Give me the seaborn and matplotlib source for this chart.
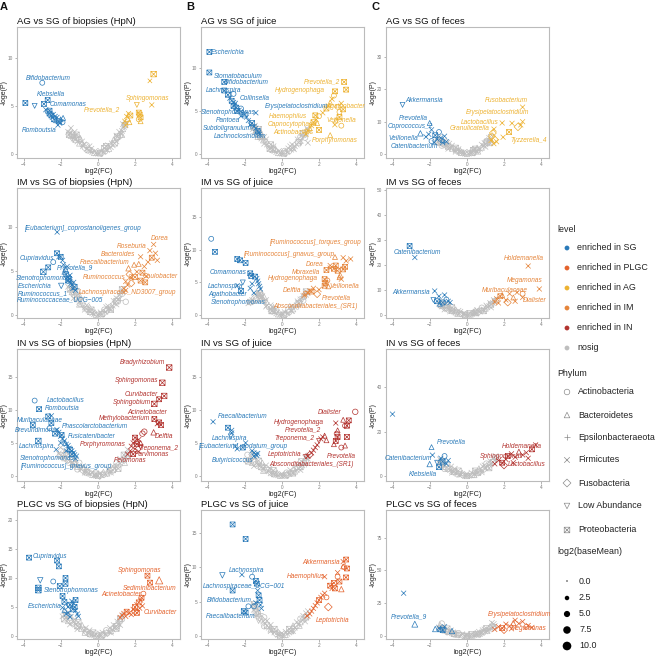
import matplotlib
matplotlib.use("Agg")
import matplotlib.pyplot as plt
import seaborn as sns
import pandas as pd
from matplotlib.path import Path
from matplotlib.markers import MarkerStyle

W, H = 659, 657
sns.set_theme(style="ticks")
plt.rcParams['font.family'] = ['Liberation Sans', 'DejaVu Sans']

# ---------------- categories ----------------
LEVELS = ["enriched in SG", "enriched in PLGC", "enriched in AG", "enriched in IM", "enriched in IN", "nosig"]
LEVEL_COLORS = ["#2A7AB9", "#E4632D", "#EDB232", "#E5853B", "#B2332F", "#BEBEBE"]
PHYLA = ["Actinobacteria", "Bacteroidetes", "Epsilonbacteraeota", "Firmicutes",
         "Fusobacteria", "Low Abundance", "Proteobacteria"]
PH_CODE = {"A": "Actinobacteria", "B": "Bacteroidetes", "E": "Epsilonbacteraeota", "F": "Firmicutes",
           "U": "Fusobacteria", "L": "Low Abundance", "P": "Proteobacteria"}
BASEMEAN_TICKS = [0.0, 2.5, 5.0, 7.5, 10.0]
GREY_PHYLA = ("FPFBU" + "AFFPF" + "BLFAF" + "PFFBF" + "FPUFA" + "FBFFP" + "FLAFF" + "BFPFE" + "AFFPB"
              + "FFPBF" + "AFFFP" + "FBFFA" + "FPFFB" + "FFAPF")
GREY_BASEMEAN = 5

# ---------------- panel data: (taxon, log2FC, -loge(P), phylum, log2(baseMean)) ----------------
A1_title = "AG vs SG of biopsies (HpN)"
A1_sig = [("Bifidobacterium", -2.99, 7.4, "A", 4), ("Klebsiella", -2.9, 5.2, "P", 4),
          ("Comamonas", -2.7, 5.6, "P", 4), ("Romboutsia", -2.15, 3.0, "F", 4),
          ("", -3.9, 5.3, "P", 4), ("", -3.4, 5.0, "L", 4), ("", -2.8, 4.6, "F", 4), ("", -2.7, 4.4, "A", 4),
          ("", -2.6, 4.2, "P", 4), ("", -2.5, 4.0, "P", 4), ("", -2.45, 3.8, "F", 4), ("", -2.4, 4.1, "F", 4),
          ("", -2.35, 3.6, "P", 4), ("", -2.3, 3.9, "F", 4), ("", -2.25, 3.5, "B", 4), ("", -2.2, 3.8, "F", 4),
          ("", -2.1, 3.4, "P", 4), ("", -2.05, 3.2, "F", 4), ("", -2.0, 3.6, "B", 4), ("", -1.9, 3.3, "A", 4),
          ("", -2.6, 4.5, "P", 4), ("", -1.87, 3.75, "B", 4),
          ("Sphingomonas", 2.9, 5.1, "F", 4), ("", 3.0, 8.3, "P", 5), ("", 2.8, 7.6, "F", 3),
          ("", 2.1, 5.1, "L", 4), ("Prevotella_2", 1.6, 3.7, "B", 6), ("", 1.45, 3.4, "F", 4),
          ("", 1.55, 3.9, "F", 4), ("", 1.7, 3.3, "B", 4), ("", 1.75, 4.0, "P", 4), ("", 1.5, 3.0, "F", 4),
          ("", 2.2, 3.6, "A", 4), ("", 2.25, 4.1, "P", 4), ("", 2.3, 3.4, "B", 4), ("", 2.2, 4.3, "P", 4),
          ("", 1.65, 4.2, "F", 4), ("", 2.3, 3.8, "P", 4)]
A1_ns_x = [-1.6, -1.55, -1.5, -1.45, -1.4, -1.35, -1.3, -1.25, -1.2, -1.1, -1.0, -0.9, -0.8, -0.7, -0.6, -0.5,
           -0.4, -0.3, -0.2, -0.1, 0.0, 0.1, 0.2, 0.3, 0.4, 0.5, 0.6, 0.7, 0.8, 0.9, 1.0, 1.1, 1.2, 1.25, 1.3,
           1.35, 1.4, 1.45, 1.5, -1.3, -1.0, -0.75, 0.75, 1.05, 1.3,
           -1.45, -1.25, -1.15, -0.95, -0.85, -0.6, -0.35, -0.15, 0.15, 0.35, 0.55, 0.85, 1.15, 1.35, -1.05,
           -0.45, 0.45, 1.0]
A1_ns_y = [2.3, 2.0, 2.2, 1.9, 2.0, 1.7, 1.6, 1.8, 1.5, 1.3, 1.1, 0.95, 0.8, 0.65, 0.5, 0.4, 0.3, 0.2, 0.12,
           0.06, 0.03, 0.07, 0.12, 0.2, 0.3, 0.42, 0.55, 0.7, 0.9, 1.1, 1.3, 1.6, 1.9, 2.1, 2.4, 2.6, 2.8, 3.0,
           3.2, 2.1, 1.5, 1.0, 1.1, 1.8, 2.0,
           2.7, 2.3, 2.0, 1.6, 1.3, 0.9, 0.55, 0.3, 0.3, 0.6, 0.9, 1.5, 2.3, 3.1, 1.7, 0.8, 0.8, 1.9]

B1_title = "AG vs SG of juice"
B1_sig = [("Escherichia", -3.9, 11.9, "P", 4), ("", -3.9, 9.5, "P", 4), ("Stomatobaculum", -3.1, 8.4, "P", 4),
          ("Bifidobacterium", -2.6, 7.0, "A", 4), ("Lachnospira", -3.1, 7.4, "P", 4),
          ("Collinsella", -2.2, 5.3, "A", 4), ("Erysipelatoclostridium", -1.4, 4.8, "F", 4),
          ("Stenotrophomonas", -2.6, 5.6, "P", 4), ("Pantoea", -2.4, 5.0, "P", 4),
          ("Subdoligranulum", -2.2, 4.4, "F", 4), ("Lachnoclostridium", -1.7, 3.4, "F", 4),
          ("", -2.9, 6.9, "P", 4), ("", -2.8, 6.5, "F", 4), ("", -2.7, 6.2, "P", 4), ("", -2.5, 5.9, "F", 4),
          ("", -2.45, 5.4, "P", 4), ("", -2.3, 5.1, "F", 4), ("", -2.1, 4.9, "B", 4), ("", -2.0, 4.6, "P", 4),
          ("", -1.9, 4.3, "F", 4), ("", -1.8, 3.9, "F", 4), ("", -1.6, 3.6, "P", 4), ("", -1.5, 3.2, "F", 4),
          ("", -1.4, 3.0, "F", 4), ("", -1.3, 2.7, "P", 4), ("", -1.25, 2.5, "F", 4), ("", -1.2, 2.3, "F", 4),
          ("", -2.6, 6.0, "F", 4), ("", -2.55, 5.7, "F", 4),
          ("Prevotella_2", 3.35, 8.4, "P", 4), ("", 3.46, 7.5, "P", 4), ("Hydrogenophaga", 2.86, 7.3, "P", 4),
          ("Agathobacter", 3.1, 4.9, "A", 4), ("Haemophilus", 1.8, 4.5, "P", 4),
          ("Capnocytophaga", 1.9, 3.6, "B", 4), ("Actinobacillus", 2.0, 2.8, "P", 4),
          ("Veillonella", 2.85, 3.4, "F", 4), ("Porphyromonas", 2.6, 2.2, "B", 4),
          ("", 1.3, 2.3, "F", 4), ("", 1.4, 2.7, "F", 4), ("", 1.5, 3.0, "B", 4), ("", 1.6, 3.3, "F", 4),
          ("", 1.7, 3.7, "P", 4), ("", 1.85, 4.0, "F", 4), ("", 2.0, 4.4, "A", 4), ("", 2.2, 4.8, "F", 4),
          ("", 2.4, 5.3, "P", 4), ("", 2.5, 5.6, "F", 4), ("", 2.6, 6.0, "B", 4), ("", 2.7, 6.4, "F", 4),
          ("", 2.8, 6.8, "A", 4), ("", 3.0, 5.5, "A", 4), ("", 3.2, 5.9, "F", 4), ("", 3.3, 5.2, "P", 4),
          ("", 3.1, 4.3, "P", 4), ("", 2.9, 3.9, "B", 4), ("", 3.2, 3.3, "A", 4)]
B1_ns_x = [-1.55, -1.5, -1.45, -1.4, -1.35, -1.3, -1.25, -1.2, -1.15, -1.1, -1.0, -0.9, -0.8, -0.7, -0.6,
           -0.5, -0.4, -0.3, -0.2, -0.1, 0.0, 0.1, 0.2, 0.3, 0.4, 0.5, 0.6, 0.7, 0.8, 0.9, 1.0, 1.1, 1.2, 1.3,
           1.4, -1.3, -0.95, -0.65, 0.65, 1.0, 1.25, 1.4,
           -1.45, -1.25, -1.15, -0.95, -0.85, -0.6, -0.35, -0.15, 0.15, 0.35, 0.55, 0.85, 1.15, 1.35, -1.05,
           -0.45, 0.45, 1.0]
B1_ns_y = [2.9, 3.1, 2.6, 2.8, 2.4, 2.5, 2.2, 2.3, 2.0, 1.8, 1.6, 1.35, 1.1, 0.9, 0.7, 0.5, 0.35, 0.22, 0.12,
           0.06, 0.03, 0.06, 0.12, 0.22, 0.35, 0.5, 0.7, 0.9, 1.1, 1.35, 1.6, 1.9, 2.2, 2.5, 2.8, 2.0, 1.2, 0.6,
           0.55, 1.3, 1.9, 1.3,
           3.3, 2.9, 2.6, 2.0, 1.7, 1.1, 0.65, 0.35, 0.35, 0.65, 1.1, 1.7, 2.4, 3.0, 2.1, 0.9, 0.9, 2.0]

C1_title = "AG vs SG of feces"
C1_sig = [("Akkermansia", -3.46, 15.2, "L", 4), ("Prevotella", -2.0, 9.6, "B", 4),
          ("Coprococcus_2", -2.2, 5.3, "F", 4), ("Veillonella", -2.05, 6.1, "F", 4),
          ("Catenibacterium", -1.3, 3.5, "F", 4), ("", -2.5, 6.4, "B", 5), ("", -1.9, 7.5, "F", 4),
          ("", -1.7, 5.8, "P", 4), ("", -1.6, 4.6, "F", 4), ("", -1.5, 6.8, "A", 4), ("", -1.4, 5.0, "F", 4),
          ("", -1.3, 4.3, "B", 4), ("", -1.2, 5.5, "F", 4), ("", -1.1, 3.8, "F", 4), ("", -1.9, 4.0, "A", 4),
          ("", -1.75, 3.5, "F", 4),
          ("Fusobacterium", 3.0, 14.5, "F", 4), ("Erysipelatoclostridium", 3.0, 10.0, "F", 4),
          ("Lactobacillus", 1.9, 9.6, "F", 4), ("Granulicatella", 1.46, 7.7, "F", 4),
          ("Tyzzerella_4", 1.95, 5.2, "F", 4), ("", 2.27, 6.8, "P", 4), ("", 2.43, 9.5, "F", 4),
          ("", 2.75, 8.4, "U", 5), ("", 2.9, 9.0, "F", 4), ("", 1.35, 5.5, "U", 4), ("", 1.5, 4.5, "U", 4),
          ("", 1.4, 6.5, "U", 4), ("", 1.6, 3.8, "F", 4), ("", 1.3, 4.2, "F", 4), ("", 1.45, 3.2, "F", 4)]
C1_ns_x = [-1.6, -1.55, -1.5, -1.45, -1.4, -1.3, -1.2, -1.1, -1.0, -0.9, -0.8, -0.7, -0.6, -0.5, -0.4, -0.3,
           -0.2, -0.1, 0.0, 0.1, 0.2, 0.3, 0.4, 0.5, 0.6, 0.7, 0.8, 0.9, 1.0, 1.1, 1.2, 1.3, -1.35, -1.0, -0.6,
           0.6, 1.0, 1.25,
           -1.5, -1.3, -1.15, -0.95, -0.8, -0.6, -0.35, -0.15, 0.15, 0.35, 0.55, 0.8, 1.05, 1.2, -1.05, -0.45,
           0.45, 0.95]
C1_ns_y = [4.5, 3.8, 4.1, 3.5, 3.7, 3.2, 2.9, 2.6, 2.3, 2.0, 1.7, 1.4, 1.1, 0.85, 0.6, 0.4, 0.25, 0.1, 0.05,
           0.1, 0.25, 0.4, 0.6, 0.9, 1.2, 1.6, 2.0, 2.5, 3.0, 3.6, 4.3, 5.2, 2.6, 1.6, 0.7, 0.8, 2.2, 3.4,
           5.3, 4.4, 3.8, 3.2, 2.6, 1.9, 1.1, 0.6, 0.6, 1.2, 1.9, 2.9, 4.0, 5.0, 3.5, 1.5, 1.6, 3.4]

A2_title = "IM vs SG of biopsies (HpN)"
A2_sig = [("[Eubacterium]_coprostanoligenes_group", -2.19, 9.4, "F", 4), ("Cupriavidus", -2.0, 6.6, "P", 4),
          ("Prevotella_9", -1.75, 5.2, "B", 4), ("Stenotrophomonas", -1.7, 4.6, "P", 4),
          ("Escherichia", -1.6, 3.9, "P", 4), ("Ruminococcus_1", -1.35, 3.0, "F", 4),
          ("Ruminococcaceae_UCG\u2212005", -1.2, 2.8, "F", 4),
          ("", -2.93, 4.9, "P", 5), ("", -2.67, 5.4, "P", 4), ("", -1.97, 3.3, "L", 5), ("", -2.2, 7.0, "P", 4),
          ("", -2.1, 6.6, "F", 4), ("", -1.9, 6.2, "F", 4), ("", -1.85, 5.7, "F", 4), ("", -1.8, 4.9, "B", 4),
          ("", -1.65, 5.5, "F", 4), ("", -1.6, 4.3, "F", 4), ("", -1.55, 4.1, "P", 4), ("", -1.5, 3.8, "F", 4),
          ("", -1.45, 3.6, "F", 4), ("", -1.4, 3.4, "F", 4), ("", -1.3, 3.7, "F", 4), ("", -1.25, 3.2, "P", 4),
          ("", -1.5, 4.5, "F", 4), ("", -2.4, 6.0, "A", 4),
          ("Dorea", 3.0, 8.0, "F", 4), ("Roseburia", 2.8, 7.3, "F", 4), ("Bacteroides", 2.2, 5.8, "B", 4),
          ("Faecalibacterium", 2.3, 6.6, "F", 4), ("Ruminococcus_2", 1.8, 4.2, "F", 4),
          ("Caulobacter", 2.55, 3.7, "P", 4), ("Lachnospiraceae_ND3007_group", 1.5, 2.8, "F", 4),
          ("", 2.9, 6.5, "P", 4), ("", 1.65, 5.3, "B", 5), ("", 1.95, 5.7, "B", 4), ("", 2.0, 4.3, "P", 4),
          ("", 3.1, 7.0, "F", 4), ("", 2.7, 6.0, "F", 4), ("", 2.5, 5.5, "F", 4), ("", 2.4, 4.8, "P", 4),
          ("", 1.7, 4.6, "U", 4), ("", 1.8, 3.6, "U", 4), ("", 1.6, 3.4, "F", 4), ("", 1.4, 3.0, "F", 4),
          ("", 2.1, 4.9, "F", 4), ("", 2.6, 4.4, "F", 4), ("", 2.3, 3.9, "P", 4), ("", 1.5, 3.8, "F", 4),
          ("", 3.2, 6.2, "F", 4)]
A2_ns_x = [-1.6, -1.5, -1.45, -1.4, -1.35, -1.3, -1.25, -1.2, -1.1, -1.0, -0.9, -0.8, -0.7, -0.6, -0.5, -0.4,
           -0.3, -0.2, -0.1, 0.0, 0.1, 0.2, 0.3, 0.4, 0.5, 0.6, 0.7, 0.8, 0.9, 1.0, 1.1, 1.2, 1.3, 1.35, -1.3,
           -1.0, -0.7, 0.7, 1.0, 1.2, 1.5,
           -1.45, -1.25, -1.15, -0.95, -0.85, -0.6, -0.35, -0.15, 0.15, 0.35, 0.55, 0.85, 1.15, 1.3, -1.05,
           -0.45, 0.45, 1.0]
A2_ns_y = [3.2, 2.9, 3.0, 2.6, 2.7, 2.3, 2.4, 2.1, 1.8, 1.5, 1.3, 1.05, 0.85, 0.65, 0.5, 0.35, 0.2, 0.1, 0.05,
           0.02, 0.05, 0.1, 0.2, 0.35, 0.5, 0.65, 0.85, 1.05, 1.3, 1.55, 1.8, 2.1, 2.4, 2.6, 1.9, 1.2, 0.6, 0.6,
           1.2, 1.7, 1.5,
           3.5, 3.0, 2.7, 2.1, 1.8, 1.1, 0.6, 0.3, 0.3, 0.6, 1.0, 1.6, 2.3, 2.9, 2.3, 0.9, 0.9, 1.9]

B2_title = "IM vs SG of juice"
B2_sig = [("", -3.8, 11.7, "A", 4), ("", -3.6, 9.7, "P", 4), ("Comamonas", -1.95, 8.0, "P", 4),
          ("Lachnospira", -2.4, 4.5, "F", 4), ("Agathobacter", -1.7, 4.1, "F", 4),
          ("Stenotrophomonas", -2.2, 3.7, "P", 4), ("", -2.4, 8.6, "P", 4), ("", -2.25, 8.4, "P", 4),
          ("", -1.7, 6.4, "P", 4), ("", -1.65, 6.0, "P", 4), ("", -2.1, 5.0, "L", 4), ("", -1.5, 3.4, "F", 4),
          ("", -1.35, 5.6, "F", 4), ("", -1.3, 5.2, "F", 4), ("", -1.25, 4.8, "F", 4), ("", -1.2, 4.4, "F", 4),
          ("", -1.15, 4.0, "F", 4), ("", -1.6, 4.8, "F", 4), ("", -1.45, 5.9, "P", 4),
          ("[Ruminococcus]_torques_group", 3.3, 8.8, "F", 4), ("[Ruminococcus]_gnavus_group", 2.6, 7.6, "F", 4),
          ("Dorea", 2.6, 7.2, "F", 4), ("Moraxella", 2.4, 6.9, "P", 4), ("Hydrogenophaga", 2.3, 5.5, "P", 4),
          ("Veillonella", 3.2, 5.5, "F", 4), ("Delftia", 1.6, 3.6, "P", 4), ("Prevotella", 2.5, 4.4, "B", 4),
          ("Absconditabacteriales_(SR1)", 1.3, 3.2, "L", 4),
          ("", 2.86, 8.9, "B", 4), ("", 3.46, 8.3, "F", 4), ("", 3.7, 8.6, "F", 4), ("", 3.4, 7.4, "P", 4),
          ("", 2.8, 7.1, "P", 4), ("", 3.0, 6.8, "P", 4), ("", 3.14, 6.1, "B", 5), ("", 3.1, 5.8, "B", 4),
          ("", 2.45, 5.3, "A", 4), ("", 2.3, 4.5, "P", 4), ("", 2.35, 4.9, "P", 4), ("", 1.9, 3.2, "U", 4),
          ("", 2.0, 3.9, "F", 4), ("", 1.2, 3.0, "F", 4), ("", 1.4, 3.4, "F", 4), ("", 1.5, 3.7, "F", 4),
          ("", 1.7, 4.1, "F", 4), ("", 2.9, 7.6, "P", 4), ("", 3.3, 7.0, "P", 4)]
B2_ns_x = [-1.8, -1.7, -1.6, -1.5, -1.45, -1.4, -1.3, -1.25, -1.2, -1.1, -1.0, -0.9, -0.8, -0.7, -0.6, -0.5,
           -0.4, -0.3, -0.2, -0.1, 0.0, 0.1, 0.2, 0.3, 0.4, 0.5, 0.6, 0.7, 0.8, 0.9, 1.0, 1.1, 1.2, 1.3, 1.35,
           -1.15, -0.85, -0.55, 0.55, 0.85, 1.15,
           -1.45, -1.25, -1.15, -0.95, -0.85, -0.6, -0.35, -0.15, 0.15, 0.35, 0.55, 0.85, 1.15, 1.3, -1.05,
           -0.45, 0.45, 1.0]
B2_ns_y = [1.8, 2.0, 2.3, 2.2, 2.6, 2.4, 2.8, 3.0, 3.3, 2.7, 2.3, 1.9, 1.5, 1.2, 0.9, 0.65, 0.45, 0.25, 0.12,
           0.05, 0.02, 0.05, 0.12, 0.25, 0.45, 0.65, 0.9, 1.2, 1.5, 1.8, 2.1, 2.4, 2.8, 3.1, 3.4, 2.4, 1.3, 0.6,
           0.6, 1.4, 2.2,
           3.2, 3.6, 3.0, 2.8, 2.3, 1.5, 0.85, 0.45, 0.45, 0.85, 1.4, 2.1, 2.9, 3.6, 2.9, 1.2, 1.2, 2.4]

C2_title = "IM vs SG of feces"
C2_sig = [("", -3.08, 27.6, "P", 4), ("Catenibacterium", -2.8, 23.0, "F", 4), ("Akkermansia", -1.73, 9.6, "F", 4),
          ("", -1.8, 6.0, "L", 4), ("", -1.5, 7.5, "F", 4), ("", -1.3, 5.0, "P", 4), ("", -1.2, 8.0, "F", 4),
          ("", -1.1, 6.2, "A", 4), ("", -1.0, 5.5, "F", 4), ("", -1.45, 4.5, "B", 4), ("", -1.6, 5.5, "P", 4),
          ("", -0.9, 5.0, "F", 4),
          ("Holdemanella", 3.3, 19.6, "F", 4), ("Megamonas", 3.9, 10.4, "F", 4),
          ("Muribaculaceae", 1.9, 8.0, "B", 4), ("Dialister", 3.0, 7.0, "F", 4),
          ("", 1.6, 6.5, "F", 4), ("", 1.8, 7.5, "P", 4), ("", 2.1, 6.0, "F", 4), ("", 2.3, 8.5, "F", 4),
          ("", 2.5, 7.0, "B", 4), ("", 2.7, 9.0, "F", 4), ("", 1.5, 5.2, "F", 4), ("", 2.2, 5.0, "U", 4),
          ("", 2.6, 5.5, "F", 4), ("", 3.0, 8.5, "A", 4), ("", 1.7, 4.8, "F", 4)]
C2_ns_x = [-1.5, -1.4, -1.35, -1.3, -1.2, -1.1, -1.0, -0.9, -0.8, -0.7, -0.6, -0.5, -0.4, -0.3, -0.2, -0.1,
           0.0, 0.1, 0.2, 0.3, 0.4, 0.5, 0.6, 0.7, 0.8, 0.9, 1.0, 1.1, 1.2, 1.3, 1.4, 1.5, 1.6, -1.2, -0.9,
           -0.5, 0.5, 0.9, 1.3,
           -1.45, -1.3, -1.15, -0.95, -0.8, -0.6, -0.35, -0.15, 0.15, 0.35, 0.55, 0.8, 1.05, 1.25, 1.45, -1.05,
           -0.45, 0.45]
C2_ns_y = [4.5, 4.0, 3.4, 3.6, 3.0, 2.7, 2.3, 2.0, 1.7, 1.4, 1.1, 0.85, 0.6, 0.4, 0.25, 0.1, 0.05, 0.1, 0.25,
           0.4, 0.6, 0.85, 1.1, 1.4, 1.8, 2.2, 2.6, 3.1, 3.6, 4.2, 4.8, 5.4, 6.0, 2.2, 1.4, 0.5, 0.6, 1.6, 3.0,
           5.8, 5.0, 4.3, 3.6, 3.0, 2.2, 1.3, 0.7, 0.7, 1.3, 2.0, 2.9, 3.8, 4.8, 6.0, 3.9, 1.7, 1.7]

A3_title = "IN vs SG of biopsies (HpN)"
A3_sig = [("Lactobacillus", -3.4, 11.4, "A", 4), ("Romboutsia", -3.16, 10.1, "P", 4),
          ("Muribaculaceae", -3.5, 7.7, "P", 4), ("Brevundimonas", -2.3, 6.4, "P", 4),
          ("Phascolarctobacterium", -2.0, 6.0, "F", 4), ("Fusicatenibacter", -1.7, 4.8, "F", 4),
          ("Lachnospira", -2.24, 4.0, "F", 4), ("Stenotrophomonas", -1.4, 3.3, "P", 4),
          ("[Ruminococcus]_gnavus_group", -1.2, 2.6, "F", 4), ("", -3.2, 5.3, "P", 5),
          ("", -2.67, 9.0, "P", 4), ("", -2.5, 9.1, "F", 4), ("", -2.5, 8.0, "P", 4), ("", -2.2, 7.0, "F", 4),
          ("", -2.1, 6.6, "F", 4), ("", -1.95, 6.2, "P", 4), ("", -1.9, 5.6, "F", 4), ("", -1.8, 5.3, "F", 4),
          ("", -1.75, 5.0, "B", 4), ("", -1.6, 4.6, "F", 4), ("", -1.55, 4.2, "F", 4), ("", -1.5, 4.0, "P", 4),
          ("", -1.4, 3.8, "F", 4), ("", -1.3, 3.5, "F", 4), ("", -1.25, 3.2, "F", 4), ("", -1.15, 3.0, "F", 4),
          ("", -2.0, 5.0, "F", 4), ("", -1.7, 3.8, "F", 4), ("", -2.6, 7.2, "A", 4),
          ("Bradyrhizobium", 3.84, 16.4, "P", 5), ("Sphingomonas", 3.47, 14.1, "P", 5),
          ("Curvibacter", 3.57, 12.1, "P", 5), ("Sphingobium", 3.04, 10.9, "P", 5),
          ("Acinetobacter", 3.3, 11.6, "P", 4), ("Methylobacterium", 3.04, 8.6, "P", 4),
          ("Delftia", 3.4, 7.7, "P", 4), ("Porphyromonas", 2.1, 5.3, "B", 4), ("Treponema_2", 2.3, 4.4, "L", 4),
          ("Parvimonas", 2.2, 3.7, "F", 4), ("Pelomonas", 1.9, 3.3, "P", 4),
          ("", 3.0, 6.6, "B", 5), ("", 2.4, 6.4, "A", 5), ("", 2.5, 6.7, "A", 5), ("", 3.3, 8.1, "P", 4),
          ("", 3.2, 7.9, "F", 4), ("", 2.0, 5.8, "P", 4), ("", 1.9, 5.0, "F", 4), ("", 1.8, 4.5, "F", 4),
          ("", 1.75, 3.8, "F", 4), ("", 2.1, 4.8, "P", 4), ("", 2.2, 5.5, "F", 4), ("", 1.6, 3.3, "F", 4),
          ("", 2.0, 4.1, "F", 4), ("", 2.3, 5.0, "B", 4)]
A3_ns_x = [-2.1, -2.0, -1.9, -1.8, -1.7, -1.6, -1.5, -1.4, -1.3, -1.2, -1.1, -1.0, -0.9, -0.8, -0.7, -0.6,
           -0.5, -0.4, -0.3, -0.2, -0.1, 0.0, 0.1, 0.2, 0.3, 0.4, 0.5, 0.6, 0.7, 0.8, 0.9, 1.0, 1.1, 1.2, 1.3,
           1.4, 1.5, 1.6, 1.7, -1.5, -1.1, -0.7, 0.7, 1.1, 1.45,
           -2.0, -1.8, -1.6, -1.4, -1.2, -1.0, -0.8, -0.55, -0.3, -0.1, 0.1, 0.3, 0.55, 0.8, 1.0, 1.2, 1.4, 1.6]
A3_ns_y = [3.4, 3.1, 3.0, 2.7, 2.6, 2.4, 2.2, 2.0, 1.8, 1.6, 1.4, 1.2, 1.0, 0.85, 0.7, 0.55, 0.4, 0.28, 0.18,
           0.1, 0.05, 0.02, 0.05, 0.1, 0.18, 0.28, 0.4, 0.55, 0.7, 0.9, 1.1, 1.3, 1.6, 1.9, 2.2, 2.5, 2.8, 3.1,
           3.4, 1.6, 1.0, 0.5, 0.5, 1.1, 2.0,
           4.3, 3.8, 3.3, 2.9, 2.4, 2.0, 1.5, 1.0, 0.6, 0.35, 0.35, 0.6, 1.0, 1.5, 2.0, 2.6, 3.2, 4.0]

B3_title = "IN vs SG of juice"
B3_sig = [("Faecalibacterium", -3.7, 8.2, "F", 4), ("Lachnospira", -2.7, 6.5, "F", 4),
          ("[Eubacterium]_nodatum_group", -1.95, 5.0, "F", 4), ("Butyricicoccus", -1.5, 3.0, "F", 4),
          ("", -2.9, 7.3, "P", 4), ("", -2.7, 6.9, "F", 4), ("", -2.75, 6.0, "L", 4), ("", -2.5, 4.5, "F", 4),
          ("", -2.4, 4.1, "F", 4), ("", -2.1, 4.3, "P", 4), ("", -1.5, 3.5, "F", 4), ("", -1.4, 3.3, "F", 4),
          ("", -1.35, 3.1, "F", 4), ("", -1.3, 3.4, "F", 4), ("", -1.6, 3.8, "F", 4),
          ("Dialister", 3.95, 9.7, "A", 5), ("Hydrogenophaga", 2.9, 8.0, "F", 4), ("Prevotella_2", 2.3, 6.1, "B", 4),
          ("Treponema_2", 2.0, 5.3, "L", 4), ("Leptotrichia", 1.5, 3.2, "U", 4), ("Prevotella", 3.4, 4.6, "B", 4),
          ("Absconditabacteriales_(SR1)", 1.3, 2.9, "L", 4),
          ("", 3.3, 8.5, "B", 4), ("", 3.5, 7.6, "P", 4), ("", 3.4, 7.6, "A", 4), ("", 3.0, 6.9, "B", 4),
          ("", 2.95, 6.4, "A", 4), ("", 3.0, 5.9, "P", 4), ("", 3.5, 5.9, "P", 4), ("", 2.4, 5.4, "B", 4),
          ("", 2.9, 5.3, "P", 4), ("", 2.8, 4.8, "B", 4), ("", 3.2, 4.3, "A", 4), ("", 1.4, 3.0, "F", 4),
          ("", 1.6, 3.5, "F", 4), ("", 1.7, 3.9, "F", 4), ("", 1.8, 4.3, "F", 4), ("", 1.9, 4.7, "F", 4),
          ("", 2.1, 5.6, "F", 4), ("", 2.2, 5.9, "F", 4), ("", 3.6, 8.4, "P", 4)]
B3_ns_x = [-1.9, -1.8, -1.7, -1.6, -1.5, -1.4, -1.3, -1.2, -1.1, -1.0, -0.9, -0.8, -0.7, -0.6, -0.5, -0.4,
           -0.3, -0.2, -0.1, 0.0, 0.1, 0.2, 0.3, 0.4, 0.5, 0.6, 0.7, 0.8, 0.9, 1.0, 1.1, 1.2, 1.3, 1.4, -1.5,
           -1.0, -0.6, 0.6, 1.0, 1.3,
           -1.85, -1.65, -1.45, -1.25, -1.05, -0.85, -0.65, -0.45, -0.25, 0.0, 0.25, 0.45, 0.65, 0.85, 1.05,
           1.25, 1.35, -1.6]
B3_ns_y = [2.4, 2.2, 2.3, 2.0, 2.1, 1.8, 1.7, 1.5, 1.35, 1.2, 1.0, 0.85, 0.7, 0.55, 0.4, 0.28, 0.18, 0.1,
           0.05, 0.02, 0.05, 0.1, 0.18, 0.28, 0.4, 0.55, 0.7, 0.9, 1.1, 1.35, 1.6, 1.9, 2.2, 2.6, 1.5, 0.8, 0.4,
           0.4, 0.9, 1.7,
           3.2, 2.9, 2.7, 2.3, 2.0, 1.6, 1.2, 0.85, 0.5, 0.3, 0.5, 0.9, 1.3, 1.7, 2.2, 2.8, 3.1, 3.5]

C3_title = "IN vs SG of feces"
C3_sig = [("", -4.0, 27.8, "F", 4), ("Prevotella", -1.9, 13.0, "B", 4), ("Catenibacterium", -1.85, 9.4, "F", 4),
          ("Klebsiella", -1.5, 4.0, "P", 4), ("", -2.0, 5.4, "B", 5), ("", -1.4, 8.0, "F", 4),
          ("", -1.3, 6.5, "P", 4), ("", -1.2, 9.0, "A", 4), ("", -1.1, 5.5, "F", 4), ("", -1.0, 7.0, "F", 4),
          ("", -1.6, 6.0, "L", 4),
          ("Holdemanella", 3.7, 14.0, "F", 4), ("Sphingomonas", 2.2, 9.0, "P", 4), ("Lactobacillus", 3.3, 8.0, "F", 4),
          ("", 1.5, 5.5, "F", 4), ("", 1.7, 7.0, "F", 4), ("", 1.9, 6.0, "P", 4), ("", 2.1, 7.5, "F", 4),
          ("", 2.4, 10.0, "F", 4), ("", 2.6, 8.5, "F", 4), ("", 2.8, 11.0, "B", 4), ("", 3.0, 9.5, "F", 4),
          ("", 3.2, 10.5, "F", 4), ("", 2.0, 4.8, "U", 4), ("", 2.5, 6.0, "F", 4), ("", 3.5, 12.0, "P", 4)]
C3_ns_x = [-1.5, -1.4, -1.3, -1.2, -1.1, -1.0, -0.9, -0.8, -0.7, -0.6, -0.5, -0.4, -0.3, -0.2, -0.1, 0.0,
           0.1, 0.2, 0.3, 0.4, 0.5, 0.6, 0.7, 0.8, 0.9, 1.0, 1.1, 1.2, 1.3, 1.4, 1.5, 1.6, -1.2, -0.8, -0.4,
           0.4, 0.8, 1.2,
           -1.45, -1.25, -1.05, -0.85, -0.65, -0.45, -0.25, 0.0, 0.25, 0.45, 0.65, 0.85, 1.05, 1.25, 1.45, 1.55,
           -1.35, 0.95]
C3_ns_y = [6.0, 5.2, 4.8, 4.2, 3.7, 3.2, 2.7, 2.3, 1.9, 1.5, 1.2, 0.9, 0.6, 0.35, 0.15, 0.05, 0.15, 0.35, 0.6,
           0.9, 1.2, 1.6, 2.0, 2.5, 3.0, 3.6, 4.2, 4.9, 5.6, 6.3, 7.0, 7.8, 3.2, 1.5, 0.5, 0.5, 1.7, 3.6,
           7.5, 6.4, 5.3, 4.3, 3.3, 2.4, 1.5, 1.0, 1.5, 2.4, 3.4, 4.4, 5.6, 6.8, 8.2, 9.0, 6.6, 4.8]

A4_title = "PLGC vs SG of biopsies (HpN)"
A4_sig = [("Cupriavidus", -3.7, 13.5, "P", 4), ("", -2.19, 13.0, "P", 4), ("", -2.1, 12.0, "P", 4),
          ("", -3.1, 9.6, "L", 5), ("", -2.4, 9.4, "A", 4), ("", -1.74, 10.0, "P", 4), ("", -1.74, 9.0, "P", 4),
          ("", -3.2, 7.9, "P", 5), ("", -3.2, 8.3, "P", 5), ("", -2.05, 8.6, "P", 4),
          ("Stenotrophomonas", -1.9, 6.9, "P", 4), ("Escherichia", -1.8, 5.9, "P", 4),
          ("", -1.6, 5.0, "F", 4), ("", -1.5, 5.4, "P", 4), ("", -1.4, 6.0, "F", 4), ("", -1.3, 5.6, "F", 4),
          ("", -1.25, 5.0, "P", 4), ("", -1.2, 4.4, "F", 4), ("", -1.1, 3.8, "F", 4), ("", -1.05, 3.4, "F", 4),
          ("", -1.9, 4.9, "F", 4), ("", -1.8, 4.5, "B", 4), ("", -1.7, 3.8, "F", 4), ("", -1.5, 3.3, "F", 4),
          ("", -1.35, 4.6, "P", 4), ("", -1.6, 4.0, "F", 4), ("", -1.2, 6.2, "P", 4),
          ("Sphingomonas", 2.67, 10.4, "P", 4), ("Sediminibacterium", 3.3, 9.6, "B", 9), ("", 2.8, 9.2, "P", 4),
          ("Acinetobacter", 2.45, 7.3, "A", 4), ("Curvibacter", 2.1, 4.0, "P", 4),
          ("", 1.2, 3.2, "F", 4), ("", 1.3, 3.6, "F", 4), ("", 1.4, 3.9, "F", 4), ("", 1.5, 3.4, "F", 4),
          ("", 1.55, 4.2, "P", 4), ("", 1.7, 4.0, "F", 4), ("", 1.9, 4.6, "F", 4), ("", 2.0, 5.0, "P", 4),
          ("", 2.1, 5.4, "F", 4), ("", 2.2, 5.8, "P", 4), ("", 2.3, 6.2, "F", 4), ("", 2.35, 6.6, "P", 4),
          ("", 2.4, 5.2, "F", 4), ("", 2.25, 4.8, "F", 4), ("", 2.0, 4.2, "U", 4), ("", 1.8, 3.7, "F", 4)]
A4_ns_x = [-1.9, -1.8, -1.7, -1.6, -1.5, -1.4, -1.3, -1.2, -1.1, -1.0, -0.9, -0.8, -0.7, -0.6, -0.5, -0.4,
           -0.3, -0.2, -0.1, 0.0, 0.1, 0.2, 0.3, 0.4, 0.5, 0.6, 0.7, 0.8, 0.9, 1.0, 1.1, 1.2, 1.3, -1.5, -1.1,
           -0.7, 0.7, 1.0, 1.2,
           -1.85, -1.65, -1.45, -1.25, -1.05, -0.85, -0.65, -0.45, -0.25, 0.0, 0.25, 0.45, 0.65, 0.85, 1.05,
           1.2, -1.55, 1.3]
A4_ns_y = [3.4, 2.9, 3.1, 2.6, 2.7, 2.3, 2.4, 2.0, 1.7, 1.5, 1.3, 1.1, 0.9, 0.7, 0.5, 0.35, 0.22, 0.12, 0.05,
           0.02, 0.05, 0.12, 0.22, 0.35, 0.5, 0.7, 0.9, 1.15, 1.4, 1.7, 2.1, 2.5, 2.9, 2.0, 1.2, 0.6, 0.6, 1.3,
           1.9,
           4.0, 3.6, 3.3, 2.9, 2.4, 1.9, 1.4, 1.0, 0.6, 0.4, 0.6, 1.0, 1.4, 1.9, 2.5, 3.0, 4.0, 3.6]

B4_title = "PLGC vs SG of juice"
B4_sig = [("", -2.65, 16.2, "P", 4), ("", -1.95, 14.1, "P", 4), ("Lachnospira", -2.15, 8.9, "F", 4),
          ("", -3.2, 8.8, "L", 5), ("", -1.6, 8.6, "A", 4), ("Lachnospiraceae_UCG\u2212001", -2.65, 6.6, "P", 4),
          ("Bifidobacterium", -1.8, 4.3, "A", 4), ("Faecalibacterium", -2.05, 3.6, "P", 4),
          ("", -1.95, 3.4, "P", 4), ("", -1.4, 8.0, "P", 4), ("", -1.35, 7.6, "P", 4), ("", -1.3, 6.6, "F", 4),
          ("", -1.25, 5.9, "P", 4), ("", -1.4, 4.8, "F", 4), ("", -1.2, 5.2, "P", 4), ("", -1.15, 4.5, "F", 4),
          ("", -1.1, 4.0, "F", 4), ("", -1.5, 4.3, "A", 4),
          ("Akkermansia", 3.3, 10.8, "F", 4), ("Haemophilus", 2.3, 8.6, "F", 4), ("Leptotrichia", 2.5, 4.2, "U", 5),
          ("", 3.46, 11.1, "P", 4), ("", 3.5, 9.8, "P", 4), ("", 3.35, 10.0, "A", 4), ("", 3.3, 10.1, "B", 4),
          ("", 3.0, 9.2, "F", 4), ("", 3.45, 8.5, "P", 4), ("", 3.0, 8.6, "A", 4), ("", 2.8, 7.7, "P", 4),
          ("", 3.2, 6.8, "B", 5), ("", 2.85, 6.9, "P", 4), ("", 2.7, 6.9, "F", 4), ("", 2.4, 5.6, "A", 4),
          ("", 1.5, 3.2, "F", 4), ("", 1.6, 3.6, "F", 4), ("", 1.7, 4.0, "F", 4), ("", 1.8, 4.4, "F", 4),
          ("", 1.9, 4.8, "F", 4), ("", 2.0, 5.2, "P", 4), ("", 2.1, 5.6, "F", 4), ("", 2.2, 5.9, "F", 4),
          ("", 2.3, 6.2, "F", 4), ("", 1.35, 2.9, "F", 4), ("", 2.6, 7.3, "P", 4), ("", 3.1, 7.9, "P", 4)]
B4_ns_x = [-1.5, -1.4, -1.35, -1.3, -1.2, -1.1, -1.0, -0.9, -0.8, -0.7, -0.6, -0.5, -0.4, -0.3, -0.2, -0.1,
           0.0, 0.1, 0.2, 0.3, 0.4, 0.5, 0.6, 0.7, 0.8, 0.9, 1.0, 1.1, 1.2, 1.3, 1.4, -1.25, -0.95, -0.6, 0.6,
           0.95, 1.25,
           -1.45, -1.3, -1.15, -0.95, -0.8, -0.6, -0.4, -0.2, 0.0, 0.2, 0.4, 0.6, 0.8, 1.0, 1.15, 1.3, 1.4, -1.5]
B4_ns_y = [3.8, 3.4, 3.0, 3.2, 2.7, 2.4, 2.1, 1.8, 1.5, 1.2, 0.95, 0.7, 0.5, 0.3, 0.15, 0.06, 0.02, 0.06,
           0.15, 0.3, 0.5, 0.7, 0.95, 1.2, 1.45, 1.7, 2.0, 2.3, 2.5, 2.7, 2.9, 2.2, 1.4, 0.7, 0.7, 1.5, 2.1,
           4.3, 3.8, 3.3, 2.7, 2.2, 1.6, 1.0, 0.6, 0.4, 0.6, 1.0, 1.5, 2.0, 2.5, 2.9, 3.3, 3.6, 4.6]

C4_title = "PLGC vs SG of feces"
C4_sig = [("", -3.4, 32.6, "F", 4), ("Prevotella_9", -2.8, 9.0, "B", 6), ("", -1.7, 5.3, "B", 5),
          ("", -1.5, 6.0, "F", 4), ("", -1.3, 4.5, "P", 4), ("", -1.2, 7.0, "F", 4), ("", -1.4, 5.3, "B", 5),
          ("", -0.8, 3.8, "B", 5),
          ("Erysipelatoclostridium", 2.6, 12.0, "F", 4), ("Megamonas", 3.3, 8.0, "F", 4),
          ("", 1.5, 5.0, "F", 4), ("", 1.7, 7.0, "F", 4), ("", 1.9, 6.0, "P", 4), ("", 2.1, 9.0, "F", 4),
          ("", 2.3, 7.5, "F", 4), ("", 2.5, 10.0, "B", 4), ("", 2.8, 9.5, "F", 4), ("", 3.0, 11.0, "F", 4),
          ("", 3.2, 7.0, "A", 4), ("", 2.0, 4.5, "U", 4), ("", 3.5, 6.5, "F", 4), ("", 2.4, 5.5, "F", 4)]
C4_ns_x = [-1.5, -1.4, -1.3, -1.2, -1.1, -1.0, -0.9, -0.8, -0.7, -0.6, -0.5, -0.4, -0.3, -0.2, -0.1, 0.0,
           0.1, 0.2, 0.3, 0.4, 0.5, 0.6, 0.7, 0.8, 0.9, 1.0, 1.1, 1.2, 1.3, 1.4, 1.5, -1.1, -0.7, 0.7, 1.1,
           -1.45, -1.25, -1.05, -0.85, -0.65, -0.45, -0.25, 0.0, 0.25, 0.45, 0.65, 0.85, 1.05, 1.25, 1.45,
           -1.35, 0.95, 1.35]
C4_ns_y = [6.5, 5.8, 5.0, 4.3, 3.7, 3.1, 2.6, 2.1, 1.7, 1.3, 1.0, 0.7, 0.4, 0.2, 0.1, 0.05, 0.1, 0.2, 0.4,
           0.7, 1.0, 1.4, 1.8, 2.3, 2.9, 3.5, 4.2, 5.0, 5.8, 6.7, 7.6, 3.0, 1.3, 1.5, 3.8,
           8.5, 7.0, 5.6, 4.3, 3.2, 2.2, 1.3, 1.0, 1.3, 2.2, 3.2, 4.4, 5.8, 7.4, 9.2, 9.5, 5.0, 10.0]

# ---------------- layout (pixels in the 659x657 canvas) ----------------
COL_LEFT = [17, 201, 386]
COL_W = 163
ROW_TOP = [27, 188, 349, 510]
ROW_H = [131, 130, 132, 129]
YLIMS = {"A1": (-0.42, 13.2), "B1": (-0.47, 14.8), "C1": (-1.24, 39.3),
         "A2": (-0.34, 14.4), "B2": (-0.46, 19.5), "C2": (-1.2, 50.8),
         "A3": (-0.76, 19.2), "B3": (-0.76, 19.2), "C3": (-2.2, 57.0),
         "A4": (-0.5, 21.7), "B4": (-0.45, 18.3), "C4": (-2.3, 96.0)}
YTICKS = {"A1": [0, 5, 10], "B1": [0, 5, 10], "C1": [0, 10, 20, 30],
          "A2": [0, 5, 10], "B2": [0, 5, 10, 15], "C2": [0, 10, 20, 30, 40, 50],
          "A3": [0, 5, 10, 15], "B3": [0, 5, 10, 15], "C3": [0, 20, 40],
          "A4": [0, 5, 10, 15, 20], "B4": [0, 5, 10, 15], "C4": [0, 25, 50, 75]}
LABEL_PX = {
    "A1": {"Bifidobacterium": (48, 78), "Klebsiella": (51, 94), "Comamonas": (68, 104), "Romboutsia": (39, 130),
           "Sphingomonas": (148, 99), "Prevotella_2": (102, 110)},
    "B1": {"Escherichia": (228, 53), "Stomatobaculum": (238, 76), "Bifidobacterium": (246, 83),
           "Lachnospira": (224, 91), "Collinsella": (255, 99), "Erysipelatoclostridium": (296, 106),
           "Stenotrophomonas": (228, 113), "Pantoea": (228, 121), "Subdoligranulum": (227, 129),
           "Lachnoclostridium": (240, 137), "Prevotella_2": (322, 82), "Hydrogenophaga": (300, 90),
           "Agathobacter": (346, 107), "Haemophilus": (288, 116), "Capnocytophaga": (292, 124),
           "Actinobacillus": (293, 132), "Veillonella": (341, 121), "Porphyromonas": (335, 140)},
    "C1": {"Akkermansia": (424, 100), "Prevotella": (413, 118), "Coprococcus_2": (410, 127),
           "Veillonella": (403, 139), "Catenibacterium": (414, 146), "Fusobacterium": (506, 101),
           "Erysipelatoclostridium": (497, 113), "Lactobacillus": (480, 123), "Granulicatella": (470, 129),
           "Tyzzerella_4": (529, 140)},
    "A2": {"[Eubacterium]_coprostanoligenes_group": (83, 228), "Cupriavidus": (37, 258), "Prevotella_9": (75, 268),
           "Stenotrophomonas": (43, 278), "Escherichia": (35, 286), "Ruminococcus_1": (43, 294),
           "Ruminococcaceae_UCG\u2212005": (60, 300), "Dorea": (160, 239), "Roseburia": (132, 247),
           "Bacteroides": (118, 255), "Faecalibacterium": (105, 262), "Ruminococcus_2": (108, 277),
           "Caulobacter": (160, 277), "Lachnospiraceae_ND3007_group": (128, 292)},
    "B2": {"Comamonas": (228, 273), "Lachnospira": (226, 287), "Agathobacter": (228, 294),
           "Stenotrophomonas": (238, 302), "[Ruminococcus]_torques_group": (315, 243),
           "[Ruminococcus]_gnavus_group": (289, 254), "Dorea": (315, 265), "Moraxella": (306, 272),
           "Hydrogenophaga": (293, 279), "Veillonella": (344, 286), "Delftia": (292, 290),
           "Prevotella": (336, 298), "Absconditabacteriales_(SR1)": (316, 307)},
    "C2": {"Catenibacterium": (417, 253), "Akkermansia": (411, 292), "Holdemanella": (524, 258),
           "Megamonas": (525, 281), "Muribaculaceae": (505, 290), "Dialister": (535, 300)},
    "A3": {"Lactobacillus": (66, 401), "Romboutsia": (62, 409), "Muribaculaceae": (40, 420),
           "Brevundimonas": (37, 431), "Phascolarctobacterium": (95, 426), "Fusicatenibacter": (92, 437),
           "Lachnospira": (37, 446), "Stenotrophomonas": (47, 458), "[Ruminococcus]_gnavus_group": (66, 466),
           "Bradyrhizobium": (142, 362), "Sphingomonas": (137, 381), "Curvibacter": (141, 394),
           "Sphingobium": (132, 403), "Acinetobacter": (147, 412), "Methylobacterium": (124, 419),
           "Delftia": (164, 437), "Porphyromonas": (103, 444), "Treponema_2": (158, 449),
           "Parvimonas": (152, 455), "Pelomonas": (130, 461)},
    "B3": {"Faecalibacterium": (243, 416), "Lachnospira": (230, 438), "[Eubacterium]_nodatum_group": (243, 447),
           "Butyricicoccus": (233, 461), "Dialister": (330, 413), "Hydrogenophaga": (299, 423),
           "Prevotella_2": (303, 430), "Treponema_2": (294, 439), "Leptotrichia": (285, 455),
           "Prevotella": (341, 457), "Absconditabacteriales_(SR1)": (312, 465)},
    "C3": {"Prevotella": (451, 442), "Catenibacterium": (408, 458), "Klebsiella": (423, 475),
           "Holdemanella": (522, 446), "Sphingomonas": (502, 456), "Lactobacillus": (527, 465)},
    "A4": {"Cupriavidus": (50, 556), "Stenotrophomonas": (71, 591), "Escherichia": (45, 606),
           "Sphingomonas": (140, 571), "Sediminibacterium": (150, 588), "Acinetobacter": (121, 594),
           "Curvibacter": (160, 612)},
    "B4": {"Lachnospira": (247, 571), "Lachnospiraceae_UCG\u2212001": (244, 587), "Bifidobacterium": (229, 601),
           "Faecalibacterium": (231, 617), "Akkermansia": (321, 563), "Haemophilus": (306, 577),
           "Leptotrichia": (333, 621)},
    "C4": {"Prevotella_9": (409, 617), "Erysipelatoclostridium": (519, 614), "Megamonas": (529, 628)},
}
SMIN, SMAX = 1.0, 30.0

box_x = Path([(-1, -1), (1, -1), (1, 1), (-1, 1), (-1, -1), (-1, -1), (1, 1), (-1, 1), (1, -1)],
             [Path.MOVETO, Path.LINETO, Path.LINETO, Path.LINETO, Path.CLOSEPOLY,
              Path.MOVETO, Path.LINETO, Path.MOVETO, Path.LINETO])
MARKERS = {"Actinobacteria": MarkerStyle('o', fillstyle='none'),
           "Bacteroidetes": MarkerStyle('^', fillstyle='none'),
           "Epsilonbacteraeota": MarkerStyle('+', fillstyle='none'),
           "Firmicutes": MarkerStyle('x', fillstyle='none'),
           "Fusobacteria": MarkerStyle('D', fillstyle='none'),
           "Low Abundance": MarkerStyle('v', fillstyle='none'),
           "Proteobacteria": MarkerStyle(box_x, fillstyle='none')}
COLOR = dict(zip(LEVELS, LEVEL_COLORS))

PANELS = [
    ("A1", 0, 0, A1_title, "AG", A1_sig, A1_ns_x, A1_ns_y),
    ("B1", 0, 1, B1_title, "AG", B1_sig, B1_ns_x, B1_ns_y),
    ("C1", 0, 2, C1_title, "AG", C1_sig, C1_ns_x, C1_ns_y),
    ("A2", 1, 0, A2_title, "IM", A2_sig, A2_ns_x, A2_ns_y),
    ("B2", 1, 1, B2_title, "IM", B2_sig, B2_ns_x, B2_ns_y),
    ("C2", 1, 2, C2_title, "IM", C2_sig, C2_ns_x, C2_ns_y),
    ("A3", 2, 0, A3_title, "IN", A3_sig, A3_ns_x, A3_ns_y),
    ("B3", 2, 1, B3_title, "IN", B3_sig, B3_ns_x, B3_ns_y),
    ("C3", 2, 2, C3_title, "IN", C3_sig, C3_ns_x, C3_ns_y),
    ("A4", 3, 0, A4_title, "PLGC", A4_sig, A4_ns_x, A4_ns_y),
    ("B4", 3, 1, B4_title, "PLGC", B4_sig, B4_ns_x, B4_ns_y),
    ("C4", 3, 2, C4_title, "PLGC", C4_sig, C4_ns_x, C4_ns_y),
]

fig = plt.figure(figsize=(W / 100, H / 100), dpi=100)


def px_axes(left, top, width, height):
    return fig.add_axes([left / W, 1 - (top + height) / H, width / W, height / H])


ov_items = []
for key, r, c, title, group, sig, nsx, nsy in PANELS:
    ax = px_axes(COL_LEFT[c], ROW_TOP[r], COL_W, ROW_H[r])
    rows = []
    for i, (x, y) in enumerate(zip(nsx, nsy)):
        rows.append({"log2FC": x, "logP": y, "level": "nosig",
                     "phylum": PH_CODE[GREY_PHYLA[i]], "bm": GREY_BASEMEAN})
    for name, x, y, ph, bm in sig:
        lvl = "enriched in SG" if x < 0 else "enriched in " + group
        rows.append({"log2FC": x, "logP": y, "level": lvl, "phylum": PH_CODE[ph], "bm": bm})
        if name:
            ov_items.append((name, LABEL_PX[key][name], COLOR[lvl]))
    df = pd.DataFrame(rows)
    sns.scatterplot(data=df, x="log2FC", y="logP", hue="level", hue_order=LEVELS, palette=LEVEL_COLORS,
                    style="phylum", style_order=PHYLA, markers=MARKERS, size="bm", sizes=(SMIN, SMAX),
                    size_norm=(0, 10), linewidth=0.5, legend=False, ax=ax)
    coll = ax.collections[-1]
    fcs = coll.get_facecolors()
    coll.set_edgecolors(fcs)
    coll.set_facecolors("none")
    coll.set_linewidths(0.5)
    ax.set_xlim(-4.35, 4.42)
    ax.set_ylim(*YLIMS[key])
    ax.set_xticks([-4, -2, 0, 2, 4])
    ax.set_yticks(YTICKS[key])
    ax.tick_params(length=1.8, width=0.4, labelsize=3.4, colors="#7A7A7A", pad=1)
    for s in ax.spines.values():
        s.set_color("#BBBBBB")
        s.set_linewidth(0.8)
    ax.set_xlabel("log2(FC)", fontsize=5.2, labelpad=0.8, color="#222222")
    ax.set_ylabel("-loge(P)", fontsize=5.0, labelpad=0.3, color="#222222")
    ax.set_title(title, loc="left", fontsize=6.8, pad=2.5, color="#111111")

# overlay for labels and legend
ov = fig.add_axes([0, 0, 1, 1])
ov.set_xlim(0, W)
ov.set_ylim(H, 0)
ov.axis("off")

for name, (lx, ly), col in ov_items:
    ov.text(lx, ly, name, color=col, fontsize=4.7, style="italic", ha="center", va="center")

for letter, lx in zip(["A", "B", "C"], [4, 190, 376]):
    ov.text(lx, 7, letter, fontsize=8, fontweight="bold", ha="center", va="center", color="#111111")

LEG_X, LEG_TX = 567, 577
ov.text(557, 230, "level", fontsize=6.4, va="center", color="#222222")
for lvl, col, y in zip(LEVELS, LEVEL_COLORS, [248, 268, 288, 308, 328, 348]):
    ov.scatter([LEG_X], [y], s=12, color=col, edgecolors="none")
    ov.text(LEG_TX, y, lvl, fontsize=6.4, va="center", color="#222222")
ov.text(557, 373, "Phylum", fontsize=6.4, va="center", color="#222222")
for ph, y in zip(PHYLA, [392, 415, 437, 460, 483, 506, 530]):
    ov.scatter([LEG_X], [y], s=16, marker=MARKERS[ph], color="#8C8C8C", linewidths=0.5)
    ov.text(LEG_TX + 1, y, ph, fontsize=6.4, va="center", color="#222222")
ov.text(557, 552, "log2(baseMean)", fontsize=6.4, va="center", color="#222222")
for bm, y in zip(BASEMEAN_TICKS, [581, 598, 614, 630, 646]):
    ov.scatter([LEG_X], [y], s=SMIN + (bm / 10.0) * (SMAX - SMIN) * 1.3, color="black", edgecolors="none")
    ov.text(LEG_TX + 2, y, f"{bm:.1f}", fontsize=6.4, va="center", color="#222222")

fig.savefig("out.png", dpi=100)
